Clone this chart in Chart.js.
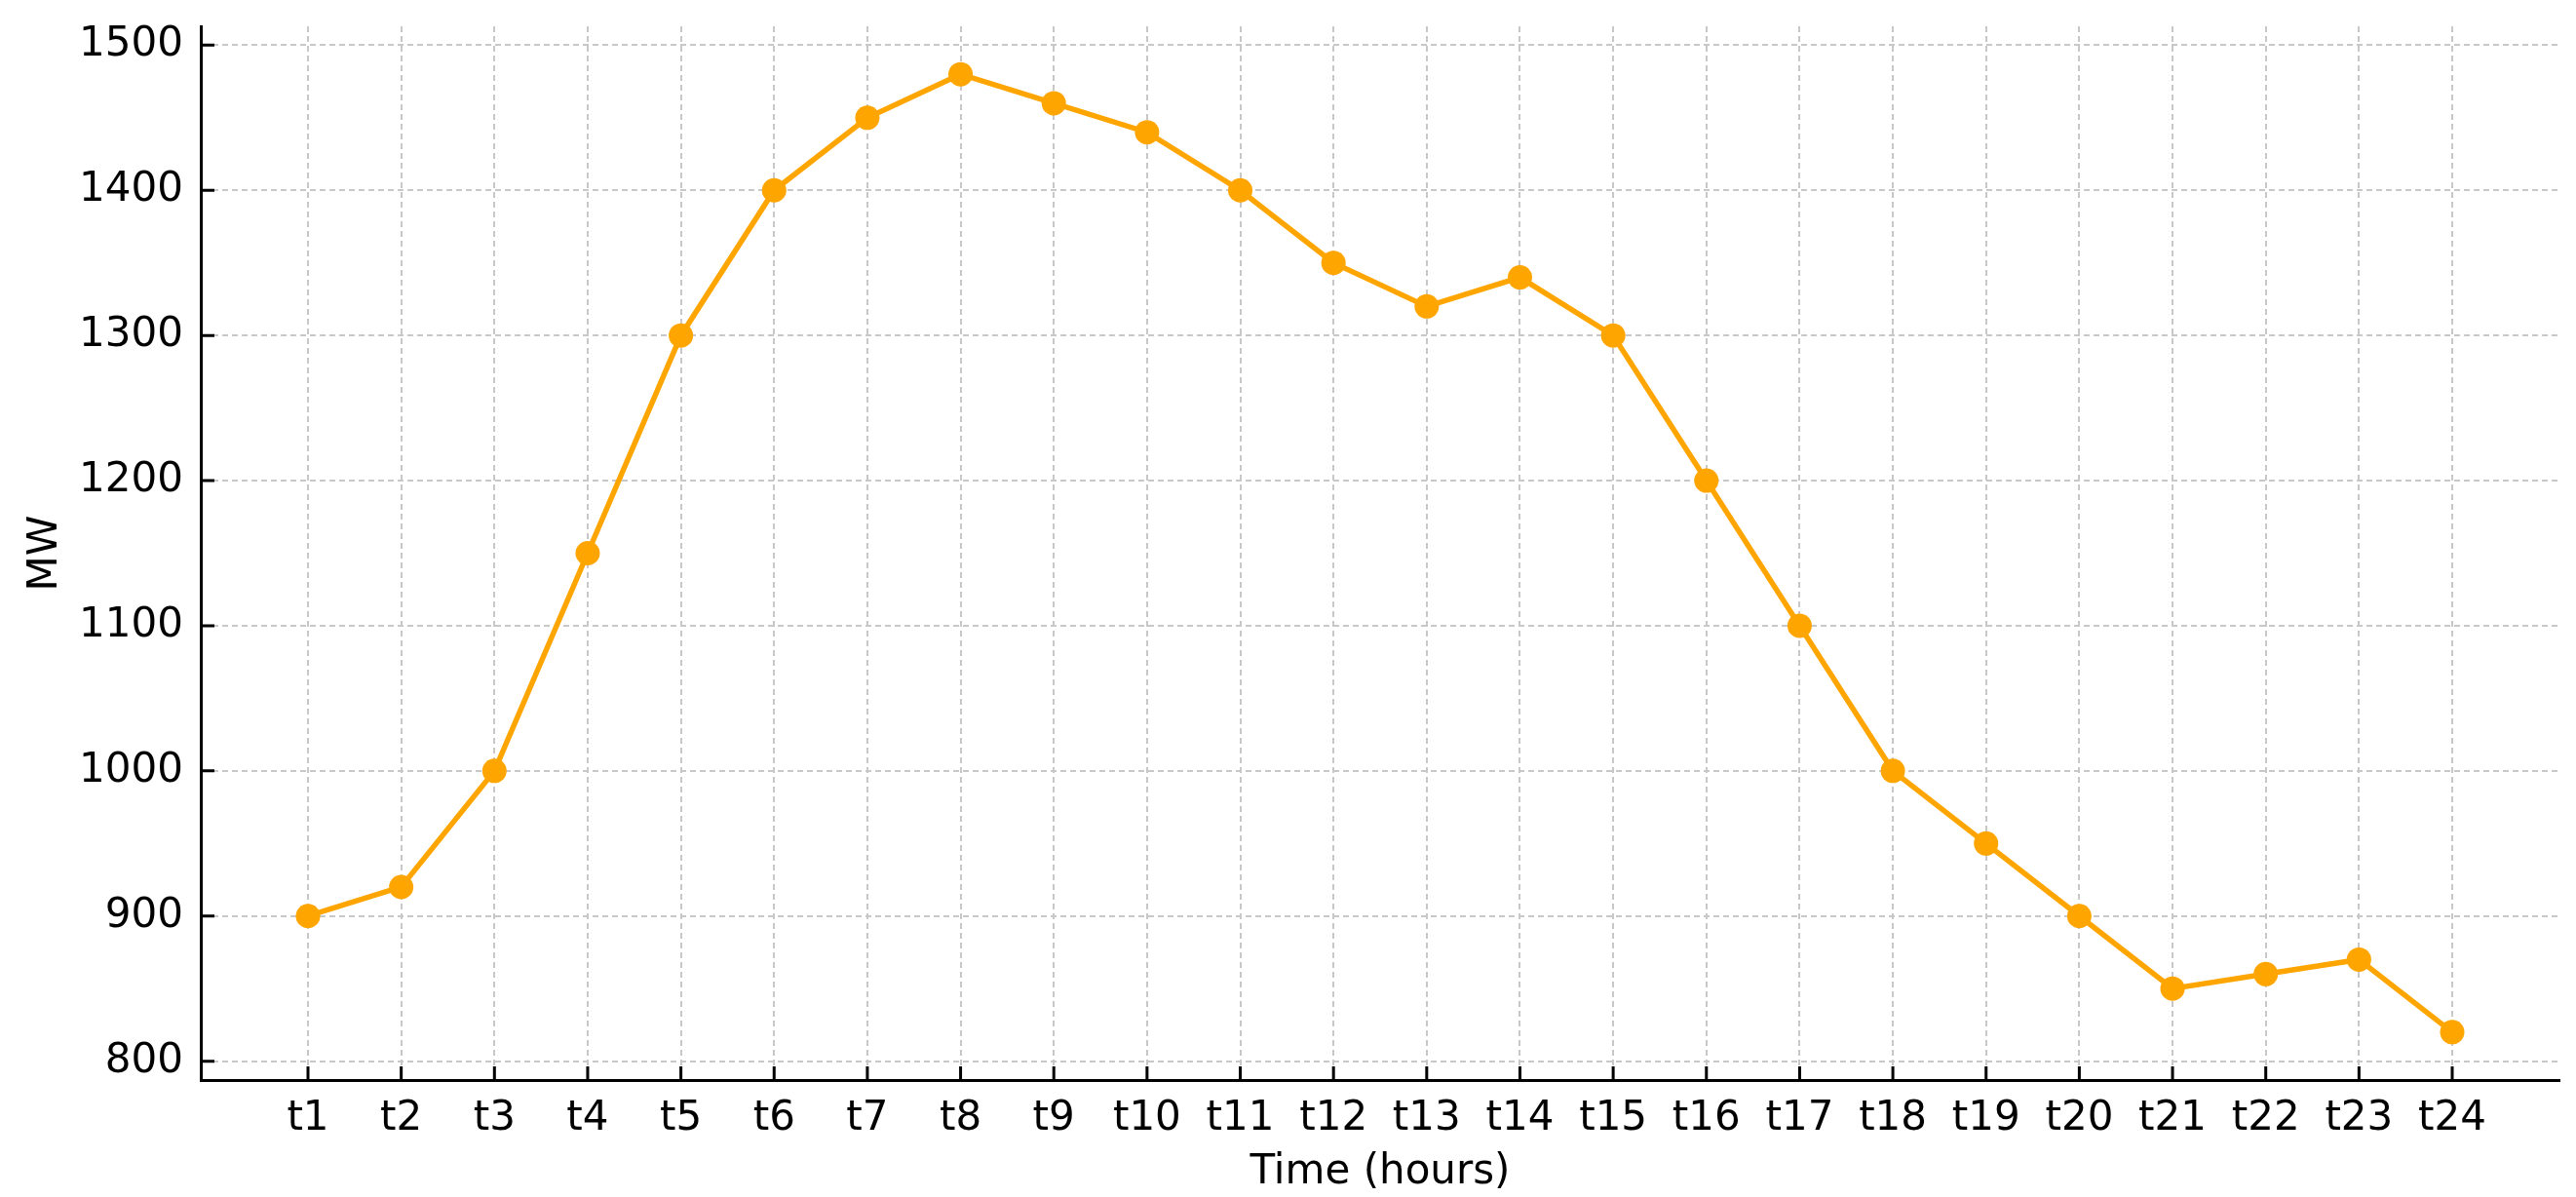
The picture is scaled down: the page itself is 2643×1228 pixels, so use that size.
<!DOCTYPE html>
<html>
<head>
<meta charset="utf-8">
<script src="https://cdn.jsdelivr.net/npm/chart.js@4/dist/chart.umd.min.js"></script>
<style>
  html, body { margin: 0; padding: 0; background: #ffffff; }
  #wrap { width: 2643px; height: 1228px; position: relative; }
</style>
</head>
<body>
<div id="wrap"><canvas id="c" width="2643" height="1228"></canvas></div>
<script>
// ---- data ----
const categories = ["t1","t2","t3","t4","t5","t6","t7","t8","t9","t10","t11","t12",
                    "t13","t14","t15","t16","t17","t18","t19","t20","t21","t22","t23","t24"];
const loadMW = [900, 920, 1000, 1150, 1300, 1400, 1450, 1480, 1460, 1440, 1400, 1350,
                1320, 1340, 1300, 1200, 1100, 1000, 950, 900, 850, 860, 870, 820];
const yTicks = [800, 900, 1000, 1100, 1200, 1300, 1400, 1500];
const xTitle = "Time (hours)";
const yTitle = "MW";

const FONT = "'DejaVu Sans', sans-serif";
const ORANGE = "#FFA500";

// matplotlib-style inward tick marks, positioned through the chart's scales
const inwardTicks = {
  id: 'inwardTicks',
  afterDraw(chart) {
    const {ctx, chartArea, scales} = chart;
    const len = 14;
    ctx.save();
    ctx.strokeStyle = '#000';
    ctx.lineWidth = 3;
    ctx.beginPath();
    scales.y.ticks.forEach(t => {
      const py = scales.y.getPixelForValue(t.value);
      ctx.moveTo(chartArea.left, py);
      ctx.lineTo(chartArea.left + len, py);
    });
    scales.x.ticks.forEach(t => {
      const px = scales.x.getPixelForValue(t.value);
      ctx.moveTo(px, chartArea.bottom);
      ctx.lineTo(px, chartArea.bottom - len);
    });
    ctx.stroke();
    ctx.restore();
  }
};

new Chart(document.getElementById('c'), {
  type: 'line',
  data: {
    datasets: [{
      data: loadMW.map((v, i) => ({x: i, y: v})),
      borderColor: ORANGE,
      backgroundColor: ORANGE,
      borderWidth: 5.5,
      pointRadius: 12.5,
      pointHoverRadius: 12.5,
      pointBorderWidth: 0,
      pointBackgroundColor: ORANGE,
      tension: 0,
      fill: false
    }]
  },
  options: {
    responsive: false,
    devicePixelRatio: 1,
    animation: false,
    layout: { padding: { top: 27, right: 17, left: 0, bottom: 0 } },
    plugins: {
      legend: { display: false },
      tooltip: { enabled: false },
      title: { display: false }
    },
    scales: {
      x: {
        type: 'linear',
        min: -1.15,
        max: categories.length - 1 + 1.15,
        afterBuildTicks: s => { s.ticks = categories.map((c, i) => ({value: i})); },
        afterFit: s => { s.height = 120; s.paddingLeft = 0; s.paddingRight = 0; },
        ticks: {
          autoSkip: false,
          maxRotation: 0,
          padding: 15,
          color: '#000',
          font: { family: FONT, size: 42 },
          callback: (v) => categories[Math.round(v)]
        },
        grid: {
          color: '#c8c8c8',
          lineWidth: 2,
          drawTicks: false
        },
        border: { display: true, color: '#000', width: 3, dash: [6, 4] },
        title: {
          display: true,
          text: xTitle,
          color: '#000',
          font: { family: FONT, size: 42 },
          padding: { top: 0, bottom: 0 }
        }
      },
      y: {
        type: 'linear',
        min: 787,
        max: 1513,
        afterBuildTicks: s => { s.ticks = yTicks.map(v => ({value: v})); },
        afterFit: s => { s.width = 206; s.paddingTop = 0; s.paddingBottom = 0; },
        ticks: {
          padding: 18,
          color: '#000',
          font: { family: FONT, size: 42 },
          callback: v => String(v)
        },
        grid: {
          color: '#c8c8c8',
          lineWidth: 2,
          drawTicks: false
        },
        border: { display: true, color: '#000', width: 3, dash: [6, 4] },
        title: {
          display: true,
          text: yTitle,
          color: '#000',
          font: { family: FONT, size: 42 },
          padding: { top: 22, bottom: 0 }
        }
      }
    }
  },
  plugins: [inwardTicks]
});
</script>
</body>
</html>
